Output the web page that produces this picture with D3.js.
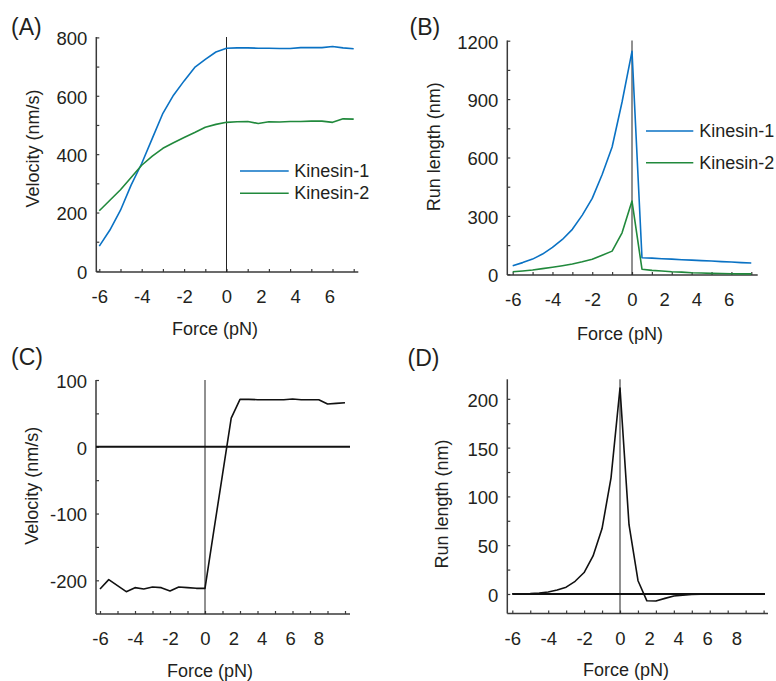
<!DOCTYPE html>
<html><head><meta charset="utf-8">
<script src="https://cdn.jsdelivr.net/npm/d3@7"></script>
<style>
body{margin:0;background:#fff;}
svg text{font-family:"Liberation Sans",Arial,Helvetica,sans-serif;fill:#231f20;}
</style></head><body>
<svg id="fig" width="776" height="681"></svg>
<script>
// ---------------- data ----------------
// force (pN) sample positions, top panels (A, B)
const forceAB = [-6,-5.5,-5,-4.5,-4,-3.5,-3,-2.5,-2,-1.5,-1,-0.5,0,
  0.62,1.24,1.85,2.47,3.09,3.71,4.32,4.94,5.56,6.18,6.79,7.41];
const kinesin1VelocityA = [85,140,208,294,368,454,540,602,651,697,725,750,763,
  764,764,763,763,762,762,765,765,765,769,764,761];
const kinesin2VelocityA = [206,242,278,320,362,393,420,439,457,474,492,502,509,
  511,512,505,511,510,512,512,513,513,509,521,520];
const kinesin1RunB = [44,60,78,104,138,179,231,304,390,513,654,885,1145,
  85,83,80,78,75,73,70,68,65,63,60,58];
const kinesin2RunB = [13,17,22,29,36,44,53,64,77,98,119,213,376,
  26,20,17,13,11,8,7,5,4,3,2,2];
// force (pN) sample positions, bottom panels (C, D)
const forceCD = [-6,-5.5,-5,-4.5,-4,-3.5,-3,-2.5,-2,-1.5,-1,-0.5,0,
  0.62,1.24,1.85,2.47,3.09,3.71,4.32,4.94,5.56,6.18,6.79,7.41,8.03,8.65,9.26,9.88];
const velocityC = [-213,-199,-208,-217,-211,-213,-210,-211,-216,-210,-211,-212,-212,
  -126,-41,43,71,71,70.5,70.5,70.5,70.5,71.5,70.5,70.5,70.5,64,65,66];
const runLengthD = [0.2,0.3,0.5,1,2,4,7,13,22,39,67,119,211,
  71,13.6,-7,-7.2,-4.5,-2,-1.2,-0.6,-0.3,-0.1,0,0,0,0,0,0];

const seriesNames = ["Kinesin-1","Kinesin-2"];
const panelLetters = ["(A)","(B)","(C)","(D)"];

// tick labels
const xLabelsAB = [-6,-4,-2,0,2,4,6];
const xLabelsCD = [-6,-4,-2,0,2,4,6,8];
const xMinorAB = [-6,-5,-4,-3,-2,-1,0,1,2,3,4,5,6];
const xMinorCD = [-6,-5,-4,-3,-2,-1,0,1,2,3,4,5,6,7,8];
const yLabelsA = [0,200,400,600,800];
const yMinorA = [0,100,200,300,400,500,600,700,800];
const yLabelsB = [0,300,600,900,1200];
const yMinorB = [0,150,300,450,600,750,900,1050,1200];
const yLabelsC = [-200,-100,0,100];
const yMinorC = [-200,-150,-100,-50,0,50,100];
const yLabelsD = [0,50,100,150,200];
const yMinorD = [0,25,50,75,100,125,150,175,200];

const BLUE = "#0a72c4", GREEN = "#21893c", AXIS = "#3a3a3a";
const svg = d3.select("#fig");
const POS_RATIO = 1.235; // positive-force labels are compressed relative to minor ticks

function panel(c){
  const g = svg.append("g");
  const x = d3.scaleLinear().domain([-6,0,6])
    .range([c.xm6, c.x0, c.x0 + 6*c.unit/POS_RATIO]);
  const xt = d3.scaleLinear().domain([-6,0]).range([c.xm6, c.x0]);
  const y = d3.scaleLinear().domain(c.yDomain).range(c.yRange);

  // axis lines
  g.append("line").attr("x1",c.yAxisX).attr("x2",c.axisRight)
    .attr("y1",c.axisY).attr("y2",c.axisY)
    .attr("stroke",AXIS).attr("stroke-width",1.5);
  g.append("line").attr("x1",c.yAxisX).attr("x2",c.yAxisX)
    .attr("y1",c.yTop).attr("y2",c.axisY)
    .attr("stroke",AXIS).attr("stroke-width",1.5);

  // x minor ticks
  g.append("g").attr("transform",`translate(0,${c.axisY})`)
    .call(d3.axisBottom(xt).tickValues(c.xMinor).tickSize(-3).tickFormat(""))
    .call(s=>{s.select(".domain").remove(); s.selectAll("line").attr("stroke",AXIS).attr("stroke-width",1.2);});
  // x labels
  g.append("g").attr("transform",`translate(0,${c.axisY})`)
    .call(d3.axisBottom(x).tickValues(c.xLabels).tickSize(0).tickPadding(18).tickFormat(d=>String(d)))
    .call(s=>{s.select(".domain").remove(); s.selectAll("line").remove(); s.selectAll("text").attr("font-size",18.5);});
  // y minor ticks
  g.append("g").attr("transform",`translate(${c.yAxisX},0)`)
    .call(d3.axisLeft(y).tickValues(c.yMinor).tickSize(-3).tickFormat(""))
    .call(s=>{s.select(".domain").remove(); s.selectAll("line").attr("stroke",AXIS).attr("stroke-width",1.2);});
  // y labels
  g.append("g").attr("transform",`translate(${c.yAxisX},0)`)
    .call(d3.axisLeft(y).tickValues(c.yLabels).tickSize(0).tickPadding(9).tickFormat(d=>String(d)))
    .call(s=>{s.select(".domain").remove(); s.selectAll("line").remove(); s.selectAll("text").attr("font-size",18.5).attr("dy","0.4em");});

  // zero vertical line
  g.append("line").attr("x1",x(0)).attr("x2",x(0))
    .attr("y1",c.yTop).attr("y2",c.axisY)
    .attr("stroke","#222").attr("stroke-width",1);
  // zero horizontal line
  if(c.zeroH){
    g.append("line").attr("x1",c.zeroH[0]).attr("x2",c.zeroH[1])
      .attr("y1",y(0)).attr("y2",y(0))
      .attr("stroke","#111").attr("stroke-width",2.2);
  }

  // series
  c.series.forEach(s=>{
    const line = d3.line().x((d,i)=>x(s.x[i])).y(d=>y(d));
    g.append("path").datum(s.y).attr("d",line)
      .attr("fill","none").attr("stroke",s.color).attr("stroke-width",1.6)
      .attr("stroke-linejoin","round");
  });

  // legend
  if(c.legend){
    c.series.forEach((s,i)=>{
      const ly = c.legend.y[i];
      g.append("line").attr("x1",c.legend.x1).attr("x2",c.legend.x2)
        .attr("y1",ly).attr("y2",ly).attr("stroke",s.color).attr("stroke-width",1.6);
      g.append("text").attr("x",c.legend.tx).attr("y",ly+6).attr("font-size",18).text(s.name);
    });
  }

  // axis titles
  g.append("text").attr("transform",`translate(${c.yTitle[0]},${c.yTitle[1]}) rotate(-90)`)
    .attr("text-anchor","middle").attr("dy","0.35em").attr("font-size",18).text(c.yText);
  g.append("text").attr("x",c.xTitle[0]).attr("y",c.xTitle[1])
    .attr("text-anchor","middle").attr("font-size",18).text("Force (pN)");
  // panel letter
  g.append("text").attr("x",c.letterPos[0]).attr("y",c.letterPos[1])
    .attr("font-size",23).text(c.letter);
}

panel({
  letter:panelLetters[0], letterPos:[11,35],
  xm6:99.3, x0:226.5, unit:21.2, yAxisX:96.3, axisY:272, axisRight:358.3, yTop:37,
  yDomain:[0,800], yRange:[270.9,37.4],
  xMinor:xMinorAB, xLabels:xLabelsAB, yMinor:yMinorA, yLabels:yLabelsA,
  series:[{name:seriesNames[0],x:forceAB,y:kinesin1VelocityA,color:BLUE},
          {name:seriesNames[1],x:forceAB,y:kinesin2VelocityA,color:GREEN}],
  legend:{x1:240,x2:288.7,tx:294.3,y:[171,193.3]},
  yTitle:[33,148.5], yText:"Velocity (nm/s)", xTitle:[215,334.5]
});
panel({
  letter:panelLetters[1], letterPos:[409.5,35],
  xm6:512.7, x0:632, unit:19.88, yAxisX:507.3, axisY:275, axisRight:757.7, yTop:40.5,
  yDomain:[0,1200], yRange:[274.3,40.7],
  xMinor:xMinorAB, xLabels:xLabelsAB, yMinor:yMinorB, yLabels:yLabelsB,
  series:[{name:seriesNames[0],x:forceAB,y:kinesin1RunB,color:BLUE},
          {name:seriesNames[1],x:forceAB,y:kinesin2RunB,color:GREEN}],
  legend:{x1:646,x2:693.3,tx:699.3,y:[131,162.7]},
  yTitle:[433.3,146.7], yText:"Run length (nm)", xTitle:[620,340]
});
panel({
  letter:panelLetters[2], letterPos:[11,365],
  xm6:100, x0:205, unit:17.5, yAxisX:96, axisY:614, axisRight:350, yTop:380,
  yDomain:[-250,100], yRange:[613.7,380],
  xMinor:xMinorCD, xLabels:xLabelsCD, yMinor:yMinorC, yLabels:yLabelsC,
  zeroH:[96,350],
  series:[{name:"C",x:forceCD,y:velocityC,color:"#111"}],
  yTitle:[31.7,485.8], yText:"Velocity (nm/s)", xTitle:[210,676.5]
});
panel({
  letter:panelLetters[3], letterPos:[407.5,366],
  xm6:512.3, x0:620, unit:17.95, yAxisX:507.3, axisY:613.5, axisRight:768, yTop:379.3,
  yDomain:[-20,220], yRange:[613.5,379.3],
  xMinor:xMinorCD, xLabels:xLabelsCD, yMinor:yMinorD, yLabels:yLabelsD,
  zeroH:[512.3,765],
  series:[{name:"D",x:forceCD,y:runLengthD,color:"#111"}],
  yTitle:[441.7,504], yText:"Run length (nm)", xTitle:[626,676]
});
</script>
</body></html>
